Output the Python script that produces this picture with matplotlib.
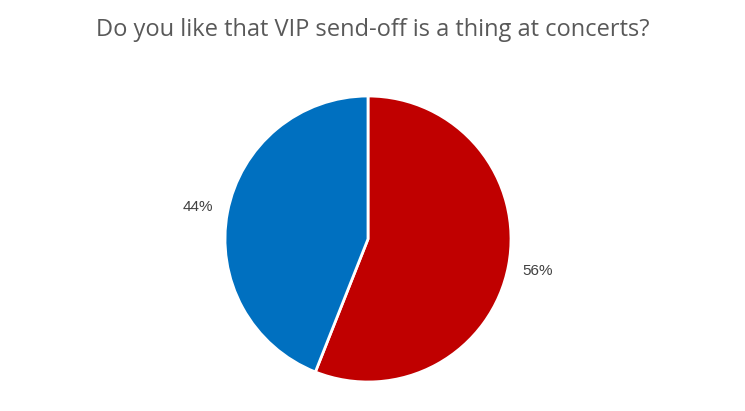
import matplotlib
matplotlib.use("Agg")
import matplotlib.pyplot as plt

answers = ["Yes", "No"]
shares = [56, 44]
colors = ["#C00000", "#0070C0"]
title = "Do you like that VIP send-off is a thing at concerts?"

W, H = 745, 411
fig = plt.figure(figsize=(W / 100, H / 100), dpi=100)

cx, cy, r = 368, 239, 143
ax = fig.add_axes([(cx - r) / W, (H - cy - r) / H, 2 * r / W, 2 * r / H])

wedges, texts, pcts = ax.pie(
    shares,
    colors=colors,
    startangle=90,
    counterclock=False,
    autopct="%1.0f%%",
    pctdistance=1.21,
    wedgeprops={"edgecolor": "white", "linewidth": 2},
    textprops={"fontsize": 11, "color": "#404040", "family": "Liberation Sans"},
)
ax.set_xlim(-1, 1)
ax.set_ylim(-1, 1)
ax.set_aspect("equal")

fig.text(0.5, 1 - 30 / H, title, ha="center", va="center",
         fontsize=17, color="#595959", family="Open Sans")

fig.savefig("out.png", dpi=100)
